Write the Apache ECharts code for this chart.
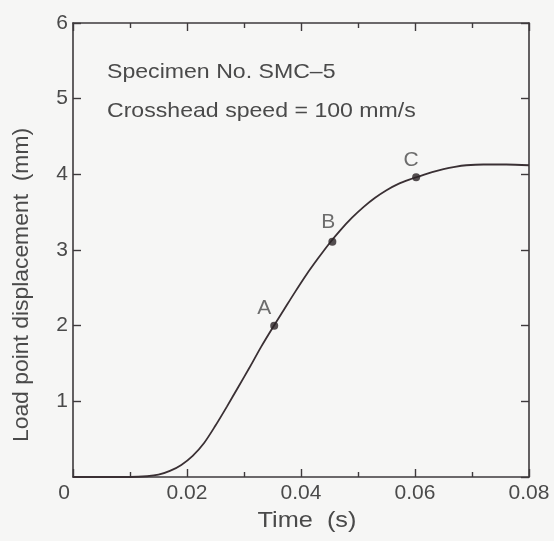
<!DOCTYPE html>
<html>
<head>
<meta charset="utf-8">
<script src="https://cdn.jsdelivr.net/npm/echarts@6/dist/echarts.min.js"></script>
<style>
html,body{margin:0;padding:0;background:#f6f6f5;}
#c{width:554px;height:541px;}
</style>
</head>
<body>
<div id="c"></div>
<script>
var timeValues = [0, 0.010, 0.013, 0.015, 0.017, 0.019, 0.021, 0.023, 0.025, 0.027, 0.029, 0.031, 0.033, 0.035, 0.037, 0.039, 0.041, 0.043, 0.045, 0.047, 0.049, 0.051, 0.053, 0.055, 0.057, 0.059, 0.061, 0.063, 0.065, 0.067, 0.069, 0.072, 0.076, 0.080];
var dispValues = [0, 0, 0.01, 0.03, 0.08, 0.16, 0.28, 0.45, 0.68, 0.93, 1.19, 1.45, 1.72, 1.97, 2.21, 2.45, 2.68, 2.89, 3.09, 3.27, 3.43, 3.57, 3.69, 3.79, 3.87, 3.93, 3.98, 4.03, 4.07, 4.10, 4.12, 4.13, 4.13, 4.12];
var markerTime = [0.0353, 0.0455, 0.0602];
var markerDisp = [2.0, 3.11, 3.96];
var markerLabels = ['A', 'B', 'C'];
var xTickStep = 0.02;
var yTickStep = 1;
var noteLines = ['Specimen No. SMC\u20135', 'Crosshead speed = 100 mm/s'];
var xTitle = 'Time  (s)';
var yTitle = 'Load point displacement  (mm)';

var FONT = 'Liberation Sans';
var TXT = '#4a4a4a';
var AX = '#3e3a3c';

var lineData = timeValues.map(function (t, i) { return [t, dispValues[i]]; });
var markerData = markerTime.map(function (t, i) { return { value: [t, markerDisp[i]], name: markerLabels[i] }; });
var labelOffsets = [[-10, 0], [-4, -2], [-5, 0]];
markerData.forEach(function (d, i) { d.label = { offset: labelOffsets[i] }; });

var chart = echarts.init(document.getElementById('c'), null, { renderer: 'canvas' });
var axisLineStyle = { color: AX, width: 1.6 };
chart.setOption({
  backgroundColor: '#f6f6f5',
  animation: false,
  grid: { left: 73, right: 25, top: 23, bottom: 64, containLabel: false },
  xAxis: [{
    type: 'value', min: 0, max: 0.08, interval: xTickStep, position: 'bottom',
    axisLine: { show: true, onZero: false, lineStyle: axisLineStyle },
    axisTick: { show: true, inside: true, length: 8, lineStyle: { color: AX, width: 1.4 } },
    minorTick: { show: true, splitNumber: 2, length: 5, lineStyle: { color: AX, width: 1.4 } },
    splitLine: { show: false },
    axisLabel: {
      margin: 6, color: TXT, fontFamily: FONT, fontSize: 21,
      formatter: function (v) { return v === 0 ? '{z|0}' : String(+v.toFixed(2)); },
      rich: { z: { fontFamily: FONT, fontSize: 21, color: TXT, padding: [0, 18, 0, 0] } }
    }
  }, {
    type: 'value', min: 0, max: 0.08, interval: xTickStep, position: 'top',
    axisLine: { show: true, onZero: false, lineStyle: axisLineStyle },
    axisTick: { show: true, inside: true, length: 8, lineStyle: { color: AX, width: 1.4 } },
    minorTick: { show: true, splitNumber: 2, length: 5, lineStyle: { color: AX, width: 1.4 } },
    splitLine: { show: false },
    axisLabel: { show: false }
  }],
  yAxis: [{
    type: 'value', min: 0, max: 6, interval: yTickStep, position: 'left',
    axisLine: { show: true, onZero: false, lineStyle: axisLineStyle },
    axisTick: { show: true, inside: true, length: 8, lineStyle: { color: AX, width: 1.4 } },
    splitLine: { show: false },
    axisLabel: { margin: 5, color: TXT, fontFamily: FONT, fontSize: 21, showMinLabel: false }
  }, {
    type: 'value', min: 0, max: 6, interval: yTickStep, position: 'right',
    axisLine: { show: true, onZero: false, lineStyle: axisLineStyle },
    axisTick: { show: true, inside: true, length: 8, lineStyle: { color: AX, width: 1.4 } },
    splitLine: { show: false },
    axisLabel: { show: false }
  }],
  series: [{
    type: 'line', xAxisIndex: 0, yAxisIndex: 0, data: lineData,
    smooth: 0.3, showSymbol: false, symbol: 'none',
    lineStyle: { color: '#3a3034', width: 1.8 }
  }, {
    type: 'scatter', xAxisIndex: 0, yAxisIndex: 0, data: markerData,
    symbol: 'circle', symbolSize: 8, itemStyle: { color: '#2a2326' },
    label: {
      show: true, position: 'top', distance: 3, formatter: '{b}',
      color: TXT, fontFamily: FONT, fontSize: 21
    },
    z: 5
  }],
  graphic: [
    { type: 'text', x: 107, y: 72, scaleX: 1.1, style: { text: noteLines[0], fill: TXT, font: '21px "Liberation Sans"', verticalAlign: 'middle' } },
    { type: 'text', x: 107, y: 111, scaleX: 1.1, style: { text: noteLines[1], fill: TXT, font: '21px "Liberation Sans"', verticalAlign: 'middle' } },
    { type: 'text', x: 307, y: 521, scaleX: 1.15, style: { text: xTitle, fill: TXT, font: '22px "Liberation Sans"', align: 'center', verticalAlign: 'middle' } },
    { type: 'text', x: 22, y: 285, rotation: Math.PI / 2, scaleX: 1.04, style: { text: yTitle, fill: TXT, font: '22px "Liberation Sans"', align: 'center', verticalAlign: 'middle' } }
  ]
});
</script>
</body>
</html>
